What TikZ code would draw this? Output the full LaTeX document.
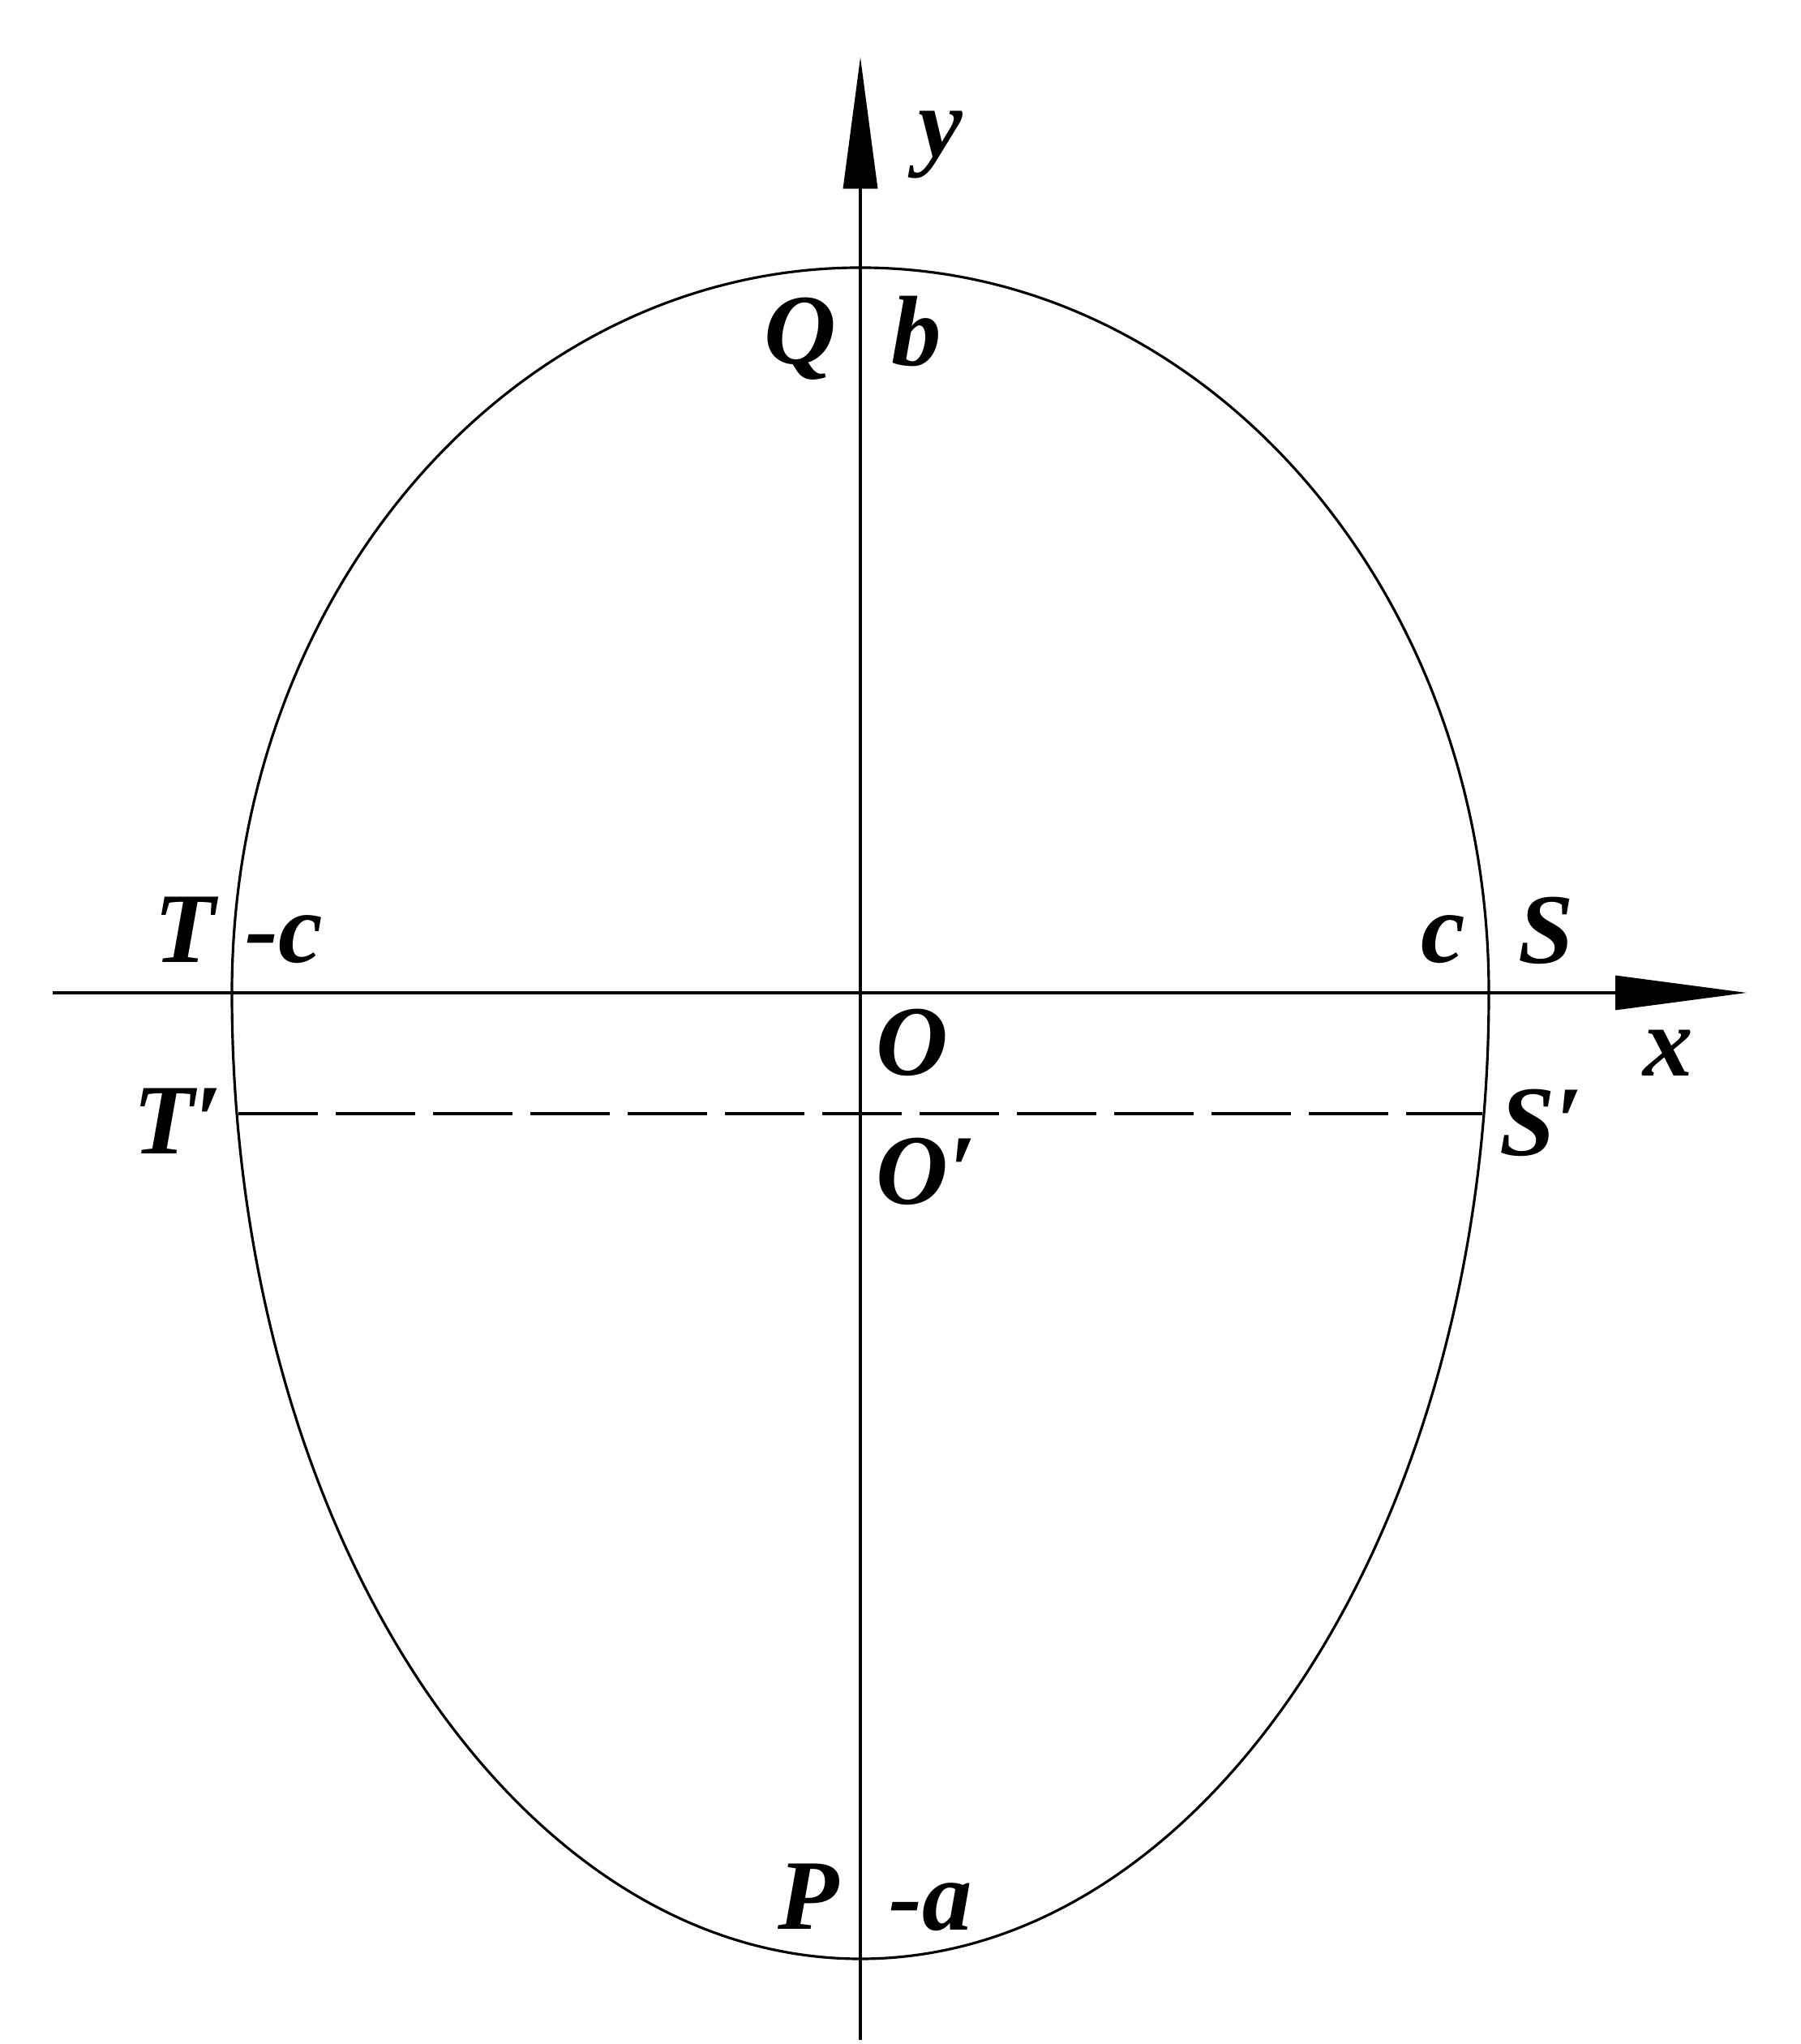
\documentclass[tikz,border=0pt]{standalone}
\usepackage{fontspec}
\setmainfont{Liberation Serif}
\usetikzlibrary{arrows.meta}

\begin{document}
\begin{tikzpicture}[line width=0.45pt,
    axis/.style={-{Triangle[length=0.81cm,width=0.21cm]}},
    lbl/.style={font=\fontsize{17.5}{20}\selectfont\bfseries\itshape, anchor=base, inner sep=0pt}]

      \useasboundingbox (-5.305,-6.48) rectangle (5.795,6.12);

      \coordinate (O) at (0,0);
      \coordinate (xl) at (-4.98,0);
      \coordinate (xr) at (5.465,0);
      \coordinate (yb) at (0,-6.455);
      \coordinate (yt) at (0,5.767);
      \coordinate (Tp) at (-3.835,-0.745);
      \coordinate (Sp) at (3.835,-0.745);

      % egg: upper and lower half ellipse
      \draw (3.875,0) arc[start angle=0, end angle=180, x radius=3.875, y radius=4.47]
                      arc[start angle=180, end angle=360, x radius=3.875, y radius=5.955];

      \draw[axis] (xl) -- (xr);
      \draw[axis] (yb) -- (yt);
      \draw[dash pattern=on 0.49cm off 0.11cm] (Tp) -- (Sp);

      \node[lbl] (ylab) at (0.495,5.15) {y};
      \node[lbl] (xlab) at (4.98,-0.515) {x};
      \node[lbl] (Q) at (-0.37,3.875) {Q};
      \node[lbl] (b) at (0.345,3.865) {b};
      \node[lbl] (T) at (-4.165,0.185) {T};
      \node[lbl] (mc) at (-3.555,0.185) {-c};
      \node[lbl] (c) at (3.595,0.185) {c};
      \node[lbl] (S) at (4.23,0.18) {S};
      \node[lbl] (Olab) at (0.32,-0.51) {O};
      \node[lbl] (Tplab) at (-4.21,-0.995) {T′};
      \node[lbl] (Splab) at (4.2,-1.005) {S′};
      \node[lbl] (Oplab) at (0.405,-1.305) {O′};
      \node[lbl] (P) at (-0.32,-5.77) {P};
      \node[lbl] (ma) at (0.435,-5.775) {-a};

\end{tikzpicture}
\end{document}
